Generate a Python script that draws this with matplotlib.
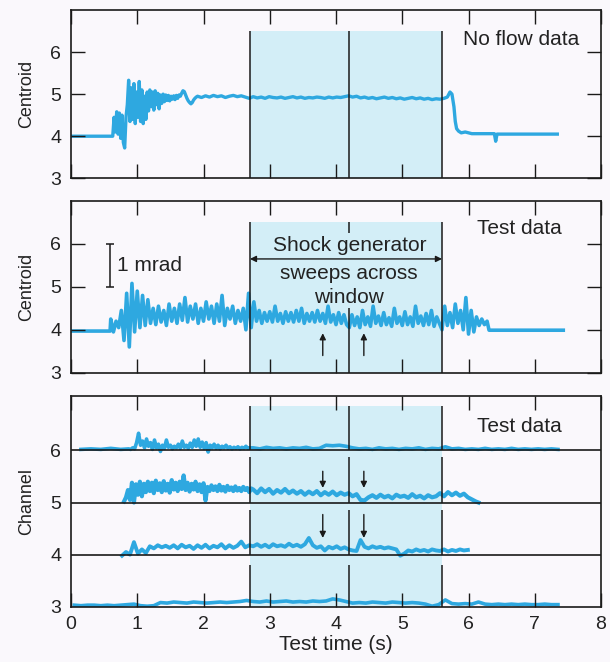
import numpy as np
import matplotlib
matplotlib.use("Agg")
import matplotlib.pyplot as plt

plt.rcParams['font.family'] = ['Liberation Sans', 'DejaVu Sans']

TRACE = '#2EA8E0'
SHADE = '#D3EEF7'
BG = '#FAF8FC'
INK = '#1A1A1A'

# ---------------------------------------------------------------- data
# time markers (s)
window_start, window_mid, window_end = 2.70, 4.20, 5.60
arrow_times = [3.80, 4.42]
x_ticks = [0, 1, 2, 3, 4, 5, 6, 7, 8]
y_ticks = [3, 4, 5, 6]

# "No flow data" centroid trace
nf_head_t = [0.00, 0.62]
nf_head_v = [4.00, 4.00]
nf_burst_t0, nf_burst_dt = 0.63, 0.02
nf_burst_v = [4.00, 4.45, 4.10, 4.58, 4.05, 4.55, 3.95, 4.50, 3.85, 3.72,
              4.45, 4.75, 5.33, 4.35, 5.15, 4.40, 5.25, 4.30, 5.05, 4.45,
              5.30, 4.35, 5.10, 4.30, 4.95, 4.40, 5.05, 4.60, 5.10, 4.70,
              5.05, 4.62, 5.08, 4.75, 5.02, 4.65, 4.98, 4.78, 5.00, 4.82,
              4.98, 4.85, 4.97, 4.84, 4.95, 4.88, 4.96, 4.87, 4.97, 4.90,
              4.98, 4.95, 5.02, 5.08, 5.06, 4.98, 4.90, 4.84, 4.80, 4.77,
              4.80, 4.86, 4.90, 4.93]
nf_flat_t0, nf_flat_dt = 1.91, 0.06
nf_flat_v = [4.95, 4.92, 4.96, 4.93, 4.97, 4.94, 4.96, 4.92, 4.95, 4.97,
             4.94, 4.96, 4.93,
             4.90, 4.94, 4.91, 4.93, 4.90, 4.94, 4.92, 4.91, 4.93, 4.90,
             4.92, 4.94, 4.91, 4.93, 4.90, 4.92, 4.91, 4.93, 4.92, 4.90,
             4.93, 4.91, 4.93, 4.92, 4.94,
             4.96, 4.93, 4.95, 4.91, 4.93, 4.90, 4.92, 4.89, 4.91, 4.93,
             4.90, 4.92, 4.89, 4.91, 4.88, 4.90, 4.92, 4.89, 4.91, 4.88,
             4.90, 4.87, 4.89, 4.88, 4.90]
nf_tail_t = [5.68, 5.72, 5.75, 5.78, 5.80, 5.82, 5.85, 5.89, 5.95, 6.05,
             6.39, 6.41, 6.43, 7.34]
nf_tail_v = [4.93, 5.05, 5.00, 4.70, 4.35, 4.18, 4.12, 4.08, 4.10, 4.06,
             4.06, 3.88, 4.05, 4.05]

# "Test data" centroid trace
td_head_t = [0.00, 0.59]
td_head_v = [3.97, 3.97]
td_burst_t0, td_burst_dt = 0.60, 0.04
td_burst_v = [4.25, 3.95, 4.20, 4.05,
              4.45, 3.75, 4.85, 3.60, 5.08, 3.95,
              4.90, 4.05, 4.80, 4.10, 4.70,
              4.15, 4.50, 4.12, 4.55, 4.18, 4.45, 4.10, 4.60,
              4.20, 4.50, 4.15, 4.60, 4.22, 4.75, 4.18, 4.55, 4.25, 4.60,
              4.15, 4.50, 4.20, 4.65, 4.25,
              4.55, 4.15, 4.60, 4.20, 4.80, 4.10, 4.50, 4.25, 4.55, 4.15,
              4.45, 4.20, 4.50, 4.00, 4.85,
              4.05, 4.65, 4.20, 4.45, 4.15, 4.40, 4.20, 4.42, 4.18, 4.55,
              4.20, 4.38, 4.15, 4.42, 4.20, 4.40, 4.18, 4.45, 4.20, 4.50,
              4.15, 4.38, 4.20, 4.40, 4.18, 4.45, 4.20, 4.38, 4.15, 4.55,
              4.18, 4.35, 4.12, 4.40, 4.15, 4.35, 4.12,
              4.05, 4.35, 4.10, 4.30, 4.05, 4.45, 4.12, 4.30, 4.08, 4.55,
              4.15, 4.32, 4.10, 4.40, 4.12, 4.28, 4.08, 4.50, 4.15, 4.30,
              4.10, 4.42, 4.12, 4.30, 4.08, 4.55, 4.15, 4.32, 4.10, 4.38,
              4.12, 4.45, 4.08, 4.30, 4.15,
              4.00, 4.55, 4.10, 4.40, 4.05, 4.60, 4.15, 4.45, 4.00, 4.75,
              3.90, 4.45, 3.95, 4.30, 4.10, 4.25, 4.12, 4.20]
td_tail_t = [6.31, 7.43]
td_tail_v = [3.99, 3.99]

# channel traces (values are channel number plus signal)
ch6_head_t = [0.15, 0.30, 0.45, 0.60, 0.75, 0.87]
ch6_head_v = [6.02, 6.03, 6.02, 6.04, 6.02, 6.03]
ch6_burst_t0, ch6_burst_dt = 0.90, 0.03
ch6_burst_v = [6.02, 6.05, 6.03, 6.15, 6.33, 6.10, 6.18, 6.05, 6.22, 6.08,
               6.15, 6.02, 6.20, 6.05, 6.12, 5.98, 6.10, 6.04, 6.20, 6.06,
               6.10, 6.03, 6.08, 6.05, 6.12, 6.04, 6.18, 6.06, 6.10, 6.04,
               6.14, 6.06, 6.20, 6.08, 6.22, 6.06, 6.16, 6.04, 6.15, 5.97,
               6.10, 6.05, 6.12, 6.04, 6.10, 6.03, 6.08, 6.05, 6.10, 6.04,
               6.07, 6.03, 6.06, 6.04, 6.07, 6.03, 6.06, 6.04, 6.08, 6.04,
               6.05]
ch6_rest_t0, ch6_rest_dt = 2.75, 0.10
ch6_rest_v = [6.05, 6.03, 6.06, 6.04, 6.05, 6.03, 6.05, 6.04, 6.06, 6.03,
              6.04, 6.10, 6.09, 6.10, 6.08,
              6.05, 6.03, 6.04, 6.02, 6.05, 6.03, 6.04, 6.02, 6.04, 6.03,
              6.05, 6.02, 6.04, 6.03,
              6.07, 6.03, 6.04, 6.02, 6.03, 6.02, 6.04, 6.02, 6.03, 6.02,
              6.04, 6.02, 6.03, 6.02, 6.03, 6.02, 6.03, 6.02]

ch5_burst_t0, ch5_burst_dt = 0.80, 0.03
ch5_burst_v = [5.02, 5.10, 5.24, 5.05, 5.38, 5.00, 5.35, 5.15, 5.40, 5.12,
               5.36, 5.20, 5.40, 5.22, 5.38, 5.18, 5.42, 5.24, 5.37, 5.20,
               5.41, 5.23, 5.36, 5.19, 5.43, 5.25, 5.38, 5.22, 5.40, 5.26,
               5.52, 5.24, 5.38, 5.21, 5.36, 5.25, 5.40, 5.22, 5.35, 5.20,
               5.37, 5.04, 5.30, 5.22, 5.33, 5.24, 5.31, 5.22, 5.34, 5.23,
               5.30, 5.21, 5.32, 5.24, 5.29, 5.22, 5.31, 5.23, 5.28, 5.22,
               5.30, 5.24, 5.28, 5.20, 5.27]
ch5_rest_t0, ch5_rest_dt = 2.75, 0.06
ch5_rest_v = [5.25, 5.18, 5.27, 5.20, 5.26, 5.17, 5.24, 5.19, 5.26, 5.18,
              5.23, 5.17, 5.22,
              5.15, 5.21, 5.16, 5.22, 5.14, 5.20, 5.15, 5.21, 5.14, 5.19,
              5.15,
              5.18, 5.12, 5.16, 5.05, 5.04, 5.10,
              5.14, 5.09, 5.15, 5.10, 5.13, 5.08, 5.15, 5.11, 5.13, 5.09,
              5.16, 5.10, 5.13, 5.08, 5.14, 5.10, 5.12,
              5.18, 5.12, 5.20, 5.14, 5.19, 5.13, 5.17, 5.10, 5.06, 5.02]
ch5_tail_t = [6.15]
ch5_tail_v = [5.00]

ch4_t0, ch4_dt = 0.77, 0.06
ch4_v = [3.98, 4.05, 4.00, 4.24, 4.02, 4.10, 4.03,
         4.16, 4.12, 4.18, 4.14, 4.17,
         4.13, 4.18, 4.12, 4.19, 4.14, 4.17, 4.11, 4.18, 4.13, 4.19,
         4.12, 4.17, 4.14, 4.20, 4.12, 4.18, 4.13, 4.17, 4.25, 4.14, 4.18,
         4.16, 4.20, 4.15, 4.19, 4.14, 4.20, 4.16, 4.18, 4.15, 4.21,
         4.16, 4.19, 4.15, 4.20,
         4.32, 4.18,
         4.13, 4.16, 4.08, 4.15, 4.12, 4.16, 4.11, 4.14, 4.10,
         4.08, 4.07, 4.28,
         4.15, 4.12, 4.16, 4.13, 4.15, 4.12, 4.14, 4.12, 4.10,
         3.98, 4.02,
         4.08, 4.06, 4.10, 4.07, 4.09, 4.06, 4.10, 4.08, 4.07, 4.10,
         4.06, 4.09, 4.07, 4.10, 4.08, 4.09]

ch3_t0, ch3_dt = 0.05, 0.10
ch3_v = [3.03, 3.02, 3.03, 3.03, 3.02, 3.03, 3.02, 3.03, 3.04,
         3.05, 3.02, 3.01, 3.02,
         3.08, 3.07, 3.09, 3.08, 3.07, 3.09, 3.08, 3.07, 3.08, 3.09,
         3.08, 3.09,
         3.10, 3.12, 3.10, 3.09, 3.11, 3.09, 3.10, 3.11, 3.09, 3.10,
         3.09, 3.11, 3.10, 3.11, 3.15,
         3.13, 3.10,
         3.07, 3.08, 3.07, 3.09, 3.08, 3.07, 3.09, 3.08, 3.07, 3.08,
         3.07, 3.05, 3.01, 3.04,
         3.13, 3.06, 3.05, 3.06, 3.05, 3.09, 3.05, 3.04, 3.05, 3.04,
         3.05, 3.04, 3.05, 3.04, 3.04, 3.05, 3.04, 3.04]


# ---------------------------------------------------------------- helpers
def uniform(t0, dt, vals):
    return t0 + dt * np.arange(len(vals)), np.asarray(vals, float)


def join(*parts):
    ts, vs = [], []
    for t, v in parts:
        ts.append(np.asarray(t, float))
        vs.append(np.asarray(v, float))
    return np.concatenate(ts), np.concatenate(vs)


def style_axes(ax, ylim, side_ticks=True):
    ax.set_facecolor(BG)
    ax.set_xlim(0, 8)
    ax.set_ylim(*ylim)
    ax.set_axisbelow(False)
    ax.set_xticks(x_ticks)
    ax.set_yticks(y_ticks)
    ax.tick_params(axis='x', direction='in', top=True, bottom=True,
                   length=10, width=1.0, color=INK, labelsize=14, pad=7,
                   labelcolor='#222222')
    ax.tick_params(axis='y', direction='in', left=side_ticks,
                   right=side_ticks, length=10 if side_ticks else 0,
                   width=1.0, color=INK, labelsize=14, pad=7,
                   labelcolor='#222222')
    for s in ax.spines.values():
        s.set_linewidth(1.2)
        s.set_color(INK)


# ---------------------------------------------------------------- figure
fig = plt.figure(figsize=(6.10, 6.62), dpi=100, facecolor=BG)
ax1 = fig.add_axes([0.1164, 0.7307, 0.8689, 0.2542])
ax2 = fig.add_axes([0.1164, 0.4370, 0.8689, 0.2594])
ax3 = fig.add_axes([0.1164, 0.0835, 0.8689, 0.3187])

# --- No flow data
style_axes(ax1, (3, 7))
ax1.fill_between([window_start, window_end], 3, 6.5, color=SHADE,
                 lw=0, zorder=0)
ax1.vlines([window_start, window_mid, window_end], 3, 6.5, color=INK,
           lw=1.1, zorder=3)
t, v = join((nf_head_t, nf_head_v),
            uniform(nf_burst_t0, nf_burst_dt, nf_burst_v),
            uniform(nf_flat_t0, nf_flat_dt, nf_flat_v),
            (nf_tail_t, nf_tail_v))
ax1.plot(t, v, color=TRACE, lw=2.4, solid_joinstyle='round', zorder=2)
ax1.text(6.79, 6.31, 'No flow data', ha='center', va='center',
         fontsize=15, color='#222222')
ax1.set_xticklabels([])
ax1.set_ylabel('Centroid', fontsize=13, color='#222222')
ax1.yaxis.set_label_coords(-0.068, 0.5)

# --- Test data (centroid)
style_axes(ax2, (3, 7))
ax2.fill_between([window_start, window_end], 3, 6.5, color=SHADE,
                 lw=0, zorder=0)
ax2.vlines([window_start, window_end], 3, 6.5, color=INK, lw=1.1, zorder=3)
ax2.vlines(window_mid, 3, 4.5, color=INK, lw=1.1, zorder=3)
ax2.vlines(window_mid, 6.25, 6.5, color=INK, lw=1.1, zorder=3)
t, v = join((td_head_t, td_head_v),
            uniform(td_burst_t0, td_burst_dt, td_burst_v),
            (td_tail_t, td_tail_v))
ax2.plot(t, v, color=TRACE, lw=2.6, solid_joinstyle='round', zorder=2)
ax2.text(6.76, 6.35, 'Test data', ha='center', va='center',
         fontsize=15, color='#222222')
ax2.text(window_mid, 5.96, 'Shock generator', ha='center', va='center',
         fontsize=15, color='#222222')
ax2.text(window_mid, 5.30, 'sweeps across', ha='center', va='center',
         fontsize=15, color='#222222')
ax2.text(window_mid, 4.76, 'window', ha='center', va='center',
         fontsize=15, color='#222222')
ax2.annotate('', xy=(window_start, 5.65), xytext=(window_end, 5.65),
             arrowprops=dict(arrowstyle='<|-|>', color=INK, lw=1.0,
                             mutation_scale=9, shrinkA=0, shrinkB=0))
for at in arrow_times:
    ax2.annotate('', xy=(at, 3.92), xytext=(at, 3.40),
                 arrowprops=dict(arrowstyle='-|>', color=INK, lw=1.0,
                                 mutation_scale=9, shrinkA=0, shrinkB=0))
# 1 mrad scale bar
ax2.vlines(0.59, 5.0, 6.0, color=INK, lw=1.1)
ax2.hlines([5.0, 6.0], 0.53, 0.65, color=INK, lw=1.1)
ax2.text(0.69, 5.5, '1 mrad', ha='left', va='center', fontsize=15,
         color='#222222')
ax2.set_xticklabels([])
ax2.set_ylabel('Centroid', fontsize=13, color='#222222')
ax2.yaxis.set_label_coords(-0.068, 0.5)

# --- Channels
style_axes(ax3, (3, 7.05), side_ticks=False)
ax3.fill_between([window_start, window_end], 3, 6.85, color=SHADE,
                 lw=0, zorder=0)
for base, top in [(6, 6.85), (5, 5.87), (4, 4.86), (3, 3.80)]:
    ax3.vlines([window_start, window_mid, window_end], base, top,
               color=INK, lw=1.1, zorder=3)
ax3.hlines([4, 5, 6], 0, 8, color=INK, lw=1.2, zorder=3)
channel_traces = [
    join((ch6_head_t, ch6_head_v),
         uniform(ch6_burst_t0, ch6_burst_dt, ch6_burst_v),
         uniform(ch6_rest_t0, ch6_rest_dt, ch6_rest_v)),
    join(uniform(ch5_burst_t0, ch5_burst_dt, ch5_burst_v),
         uniform(ch5_rest_t0, ch5_rest_dt, ch5_rest_v),
         (ch5_tail_t, ch5_tail_v)),
    uniform(ch4_t0, ch4_dt, ch4_v),
    uniform(ch3_t0, ch3_dt, ch3_v),
]
for (t, v), w in zip(channel_traces, [2.6, 3.0, 2.8, 2.6]):
    ax3.plot(t, v, color=TRACE, lw=w, solid_joinstyle='round', zorder=2)
for at in arrow_times:
    ax3.annotate('', xy=(at, 5.28), xytext=(at, 5.60),
                 arrowprops=dict(arrowstyle='-|>', color=INK, lw=1.0,
                                 mutation_scale=9, shrinkA=0, shrinkB=0))
    ax3.annotate('', xy=(at, 4.32), xytext=(at, 4.77),
                 arrowprops=dict(arrowstyle='-|>', color=INK, lw=1.0,
                                 mutation_scale=9, shrinkA=0, shrinkB=0))
ax3.text(6.76, 6.46, 'Test data', ha='center', va='center',
         fontsize=15, color='#222222')
ax3.set_xlabel('Test time (s)', fontsize=15, color='#222222', labelpad=1)
ax3.set_ylabel('Channel', fontsize=13, color='#222222')
ax3.yaxis.set_label_coords(-0.068, 0.5)

fig.savefig('out.png', dpi=100, facecolor=BG)
